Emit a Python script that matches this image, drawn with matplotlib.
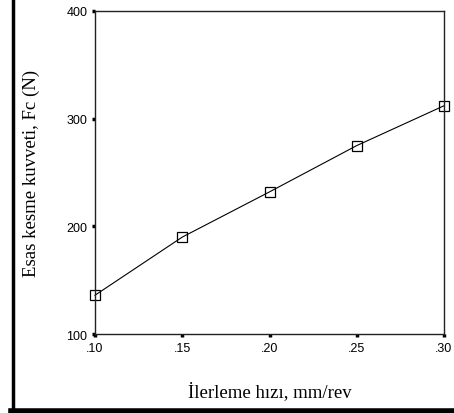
import matplotlib.pyplot as plt
from matplotlib.lines import Line2D
from matplotlib.ticker import FuncFormatter

feed = [0.10, 0.15, 0.20, 0.25, 0.30]
force = [136, 190, 232, 275, 312]
x_ticks = [0.10, 0.15, 0.20, 0.25, 0.30]
y_ticks = [100, 200, 300, 400]

fig = plt.figure(figsize=(4.54, 4.14), dpi=100)
fig.patch.set_facecolor('white')
ax = fig.add_axes([95/454, 1-335/414, (444-95)/454, (335-12)/414])

ax.plot(feed, force, color='black', linewidth=0.8, marker='s', markersize=7,
        markerfacecolor='none', markeredgecolor='black', markeredgewidth=0.9, clip_on=False)

ax.set_xlim(0.10, 0.30)
ax.set_ylim(100, 400)
ax.set_xticks(x_ticks)
ax.set_yticks(y_ticks)
ax.xaxis.set_major_formatter(FuncFormatter(lambda v, p: ('%.2f' % v)[1:]))
ax.tick_params(axis='both', direction='out', length=2.5, width=2.5, color='black',
               labelsize=9, pad=3)
for lab in ax.get_xticklabels() + ax.get_yticklabels():
    lab.set_fontfamily('Liberation Sans')
for sp in ax.spines.values():
    sp.set_linewidth(1.0)
    sp.set_color('#222222')

ax.set_xlabel('İlerleme hızı, mm/rev', fontfamily='Liberation Serif', fontsize=13.5, labelpad=20)
ax.set_ylabel('Esas kesme kuvveti, Fc (N)', fontfamily='Liberation Serif', fontsize=13.5, labelpad=19)

# outer frame pieces (left and bottom)
fig.add_artist(Line2D([12.5/454, 12.5/454], [0, 1], transform=fig.transFigure,
                      color='black', linewidth=2.5))
fig.add_artist(Line2D([11/454, 1], [2/414, 2/414], transform=fig.transFigure,
                      color='black', linewidth=4))

fig.savefig('out.png', dpi=100)
